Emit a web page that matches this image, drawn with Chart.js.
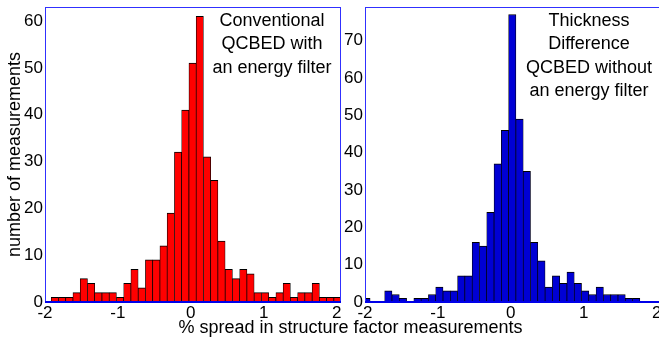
<!DOCTYPE html>
<html>
<head>
<meta charset="utf-8">
<script src="https://cdn.jsdelivr.net/npm/chart.js"></script>
<style>
    html, body { margin: 0; padding: 0; background: #fff; overflow: hidden; }
    body { width: 659px; height: 341px; position: relative; }
    .chart { position: absolute; top: 0; }
    #left-chart { left: 0; }
    #right-chart { left: 343px; }
    #x-title {
        position: absolute; left: 0; top: 316px; width: 701px;
        text-align: center; font: 18px 'Liberation Sans', Arial, sans-serif;
        line-height: 22px; color: #000;
    }
</style>
</head>
<body>
<canvas id="left-chart" class="chart" width="343" height="341"></canvas>
<canvas id="right-chart" class="chart" width="320" height="341"></canvas>
<div id="x-title">% spread in structure factor measurements</div>
<script>
// bin centres and counts
const leftBins = [-1.865, -1.766, -1.666, -1.567, -1.467, -1.368, -1.269, -1.169, -1.070, -0.970,
    -0.871, -0.772, -0.672, -0.573, -0.473, -0.374, -0.275, -0.175, -0.076, 0.024,
    0.123, 0.223, 0.322, 0.421, 0.521, 0.620, 0.720, 0.819, 0.918, 1.018,
    1.117, 1.217, 1.316, 1.415, 1.515, 1.614, 1.714, 1.813, 1.912, 2.012];
const leftCounts = [1, 1, 1, 2, 5, 4, 2, 2, 2, 1,
    4, 7, 3, 9, 9, 12, 19, 32, 41, 51,
    61, 31, 26, 13, 7, 5, 7, 6, 2, 2,
    1, 2, 4, 1, 2, 2, 4, 1, 1, 1];

const rightBins = [-1.98, -1.88, -1.78, -1.68, -1.58, -1.48, -1.38, -1.28, -1.18, -1.08,
    -0.98, -0.88, -0.78, -0.68, -0.58, -0.48, -0.38, -0.28, -0.18, -0.08,
    0.02, 0.12, 0.22, 0.32, 0.42, 0.52, 0.62, 0.72, 0.82, 0.92,
    1.02, 1.12, 1.22, 1.32, 1.42, 1.52, 1.62, 1.72, 1.82, 1.92, 2.02];
const rightCounts = [1, 0, 0, 3, 2, 1, 0, 1, 1, 2,
    4, 3, 3, 7, 7, 16, 15, 24, 37, 46,
    77, 49, 35, 16, 11, 4, 7, 5, 8, 5,
    3, 2, 4, 2, 2, 2, 1, 1, 0, 0, 0];

const xTicks = [-2, -1, 0, 1, 2];
const leftYTicks = [0, 10, 20, 30, 40, 50, 60];
const rightYTicks = [0, 10, 20, 30, 40, 50, 60, 70];

const leftNote = ['Conventional', 'QCBED with', 'an energy filter'];
const rightNote = ['Thickness', 'Difference', 'QCBED without', 'an energy filter'];

const FONT = "'Liberation Sans', Arial, Helvetica, sans-serif";
Chart.defaults.font.family = FONT;
Chart.defaults.color = '#000';

// blue box round the plot area
const framePlugin = {
    id: 'frame',
    afterDatasetsDraw(chart) {
        const { ctx, chartArea: a } = chart;
        ctx.save();
        ctx.strokeStyle = '#3030ff';
        ctx.lineWidth = 1;
        ctx.strokeRect(Math.round(a.left) + 0.5, Math.round(a.top) + 0.5,
            Math.round(a.right - a.left) - 1, Math.round(a.bottom - a.top));
        ctx.strokeStyle = '#0000e8';
        ctx.lineWidth = 2;
        ctx.beginPath();
        ctx.moveTo(a.left, Math.round(a.bottom));
        ctx.lineTo(a.right, Math.round(a.bottom));
        ctx.stroke();
        ctx.restore();
    }
};

// text block in the top right corner
const notePlugin = {
    id: 'note',
    afterDatasetsDraw(chart, args, opts) {
        const ctx = chart.ctx;
        ctx.save();
        ctx.font = '18px ' + FONT;
        ctx.fillStyle = '#000';
        ctx.textAlign = 'center';
        ctx.textBaseline = 'middle';
        opts.lines.forEach((line, i) => ctx.fillText(line, opts.x, opts.y + i * opts.step));
        ctx.restore();
    }
};

const renderChart = (canvasId, cfg) => {
    const ctx = document.getElementById(canvasId).getContext('2d');

    new Chart(ctx, {
        type: 'bar',
        data: {
            datasets: [{
                data: cfg.bins.map((x, i) => ({ x: x, y: cfg.counts[i] })),
                backgroundColor: cfg.color,
                borderColor: '#000',
                borderWidth: { top: 1, left: 0.7, right: 0.7, bottom: 0 },
                borderSkipped: false,
                barPercentage: 1,
                categoryPercentage: 1,
                clip: 0
            }]
        },
        options: {
            responsive: false,
            animation: false,
            devicePixelRatio: 1,
            layout: { padding: { top: 7, right: cfg.padRight, left: 0, bottom: 0 } },
            plugins: {
                legend: { display: false },
                tooltip: { enabled: false },
                note: cfg.note
            },
            scales: {
                x: {
                    type: 'linear',
                    offset: false,
                    min: -2,
                    max: 2.06,
                    grid: { display: false, drawTicks: false },
                    border: { display: false },
                    ticks: { font: { size: 17 }, padding: 1, maxRotation: 0, autoSkip: false },
                    afterBuildTicks: (axis) => { axis.ticks = xTicks.map(v => ({ value: v })); },
                    afterFit: (axis) => {
                        axis.height = 39;
                        axis.paddingLeft = 0;
                        axis.paddingRight = 0;
                    }
                },
                y: {
                    min: 0,
                    max: cfg.yMax,
                    grid: { display: false, drawTicks: false },
                    border: { display: false },
                    ticks: { font: { size: 17 }, padding: 2 },
                    afterBuildTicks: (axis) => { axis.ticks = cfg.yTicks.map(v => ({ value: v })); },
                    title: {
                        display: !!cfg.yTitle,
                        text: cfg.yTitle || '',
                        font: { size: 18 },
                        padding: { top: 4, bottom: 0 }
                    },
                    afterFit: (axis) => {
                        axis.width = cfg.yWidth;
                        axis.paddingTop = 0;
                        axis.paddingBottom = 0;
                    }
                }
            }
        },
        plugins: [framePlugin, notePlugin]
    });
};

renderChart('left-chart', {
    bins: leftBins,
    counts: leftCounts,
    color: '#ff0000',
    yMax: 63,
    yTicks: leftYTicks,
    yWidth: 45,
    padRight: 2,
    yTitle: 'number of measurements',
    note: { lines: leftNote, x: 272, y: 21, step: 23.5 }
});

renderChart('right-chart', {
    bins: rightBins,
    counts: rightCounts,
    color: '#0000d4',
    yMax: 79,
    yTicks: rightYTicks,
    yWidth: 22,
    padRight: 2,
    yTitle: null,
    note: { lines: rightNote, x: 246, y: 21, step: 23.5 }
});
</script>
</body>
</html>
